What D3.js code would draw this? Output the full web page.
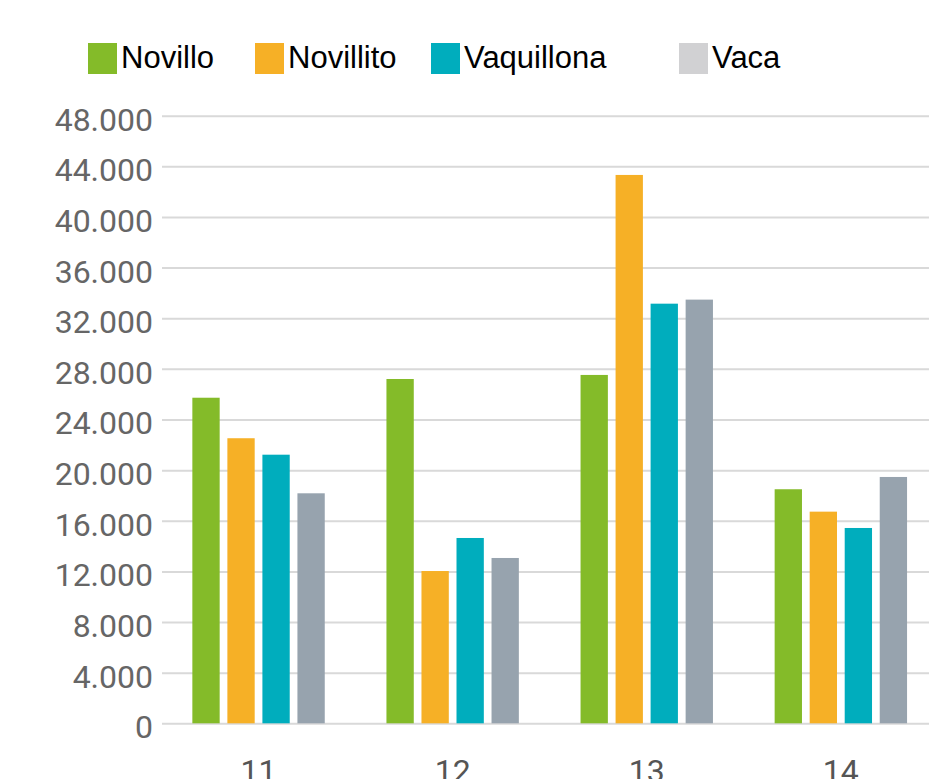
<!DOCTYPE html>
<html>
<head>
<meta charset="utf-8">
<script src="https://cdn.jsdelivr.net/npm/d3@7"></script>
<style>
  html, body { margin: 0; padding: 0; background: #ffffff; overflow: hidden; }
  svg { display: block; }
</style>
</head>
<body>
<svg id="chart" width="929" height="779"></svg>
<script>
const categories = ["11", "12", "13", "14"];
const seriesNames = ["Novillo", "Novillito", "Vaquillona", "Vaca"];
const novillo    = [25720, 27200, 27520, 18490];
const novillito  = [22520, 12030, 43320, 16720];
const vaquillona = [21220, 14640, 33150, 15430];
const vaca       = [18170, 13060, 33470, 19460];
const yTicks = [0, 4000, 8000, 12000, 16000, 20000, 24000, 28000, 32000, 36000, 40000, 44000, 48000];
const yTickLabels = ["0", "4.000", "8.000", "12.000", "16.000", "20.000", "24.000", "28.000", "32.000", "36.000", "40.000", "44.000", "48.000"];

const barColors = ["#84bb29", "#f6b026", "#00adbd", "#97a3ae"];
const legendColors = ["#84bb29", "#f6b026", "#00adbd", "#d1d1d3"];

const seriesValues = [novillo, novillito, vaquillona, vaca];

const svg = d3.select("#chart");

const x0 = d3.scaleBand().domain(categories).range([161.5, 937.9]).paddingInner(0).paddingOuter(0);
const x1 = d3.scaleBand().domain(seriesNames).range([-66.2, 66.2]).paddingInner(0.22).paddingOuter(0);
const y = d3.scaleLinear().domain([0, 48000]).range([723.3, 115.7]);

// gridlines
const yAxis = d3.axisLeft(y).tickValues(yTicks).tickSize(-(929 - 162)).tickFormat((d, i) => yTickLabels[i]).tickPadding(9);
const gy = svg.append("g").attr("transform", "translate(162,0)").call(yAxis);
gy.select(".domain").remove();
gy.selectAll(".tick line").attr("stroke", "#d9d9d9").attr("stroke-width", 2);
gy.selectAll(".tick text")
  .attr("fill", "#666666")
  .attr("font-family", "Roboto, 'Noto Sans', sans-serif")
  .attr("font-size", 32)
  .attr("dy", "0.45em");

// bars
const data = [];
categories.forEach((c, ci) => {
  seriesNames.forEach((s, si) => {
    data.push({ cat: c, series: s, value: seriesValues[si][ci], si });
  });
});

svg.append("g").selectAll("rect").data(data).join("rect")
  .attr("x", d => x0(d.cat) + x0.bandwidth() / 2 + x1(d.series))
  .attr("width", x1.bandwidth())
  .attr("y", d => y(d.value))
  .attr("height", d => y(0) - y(d.value))
  .attr("fill", d => barColors[d.si]);

// x axis labels
const xAxis = d3.axisBottom(x0).tickSize(0).tickPadding(0);
const gx = svg.append("g").attr("transform", "translate(0,752)").call(xAxis);
gx.select(".domain").remove();
gx.selectAll(".tick text")
  .attr("fill", "#555555")
  .attr("font-family", "Roboto, 'Noto Sans', sans-serif")
  .attr("font-size", 32)
  .attr("dy", "0.95em");

// legend
const legendX = [88, 255, 431, 679];
const legend = svg.append("g");
seriesNames.forEach((s, i) => {
  legend.append("rect")
    .attr("x", legendX[i]).attr("y", 43)
    .attr("width", 29).attr("height", 31)
    .attr("fill", legendColors[i]);
  legend.append("text")
    .attr("x", legendX[i] + 33).attr("y", 67.5)
    .attr("font-family", "'Liberation Sans', Arial, sans-serif")
    .attr("font-size", 31)
    .attr("fill", "#000000")
    .text(s);
});
</script>
</body>
</html>
